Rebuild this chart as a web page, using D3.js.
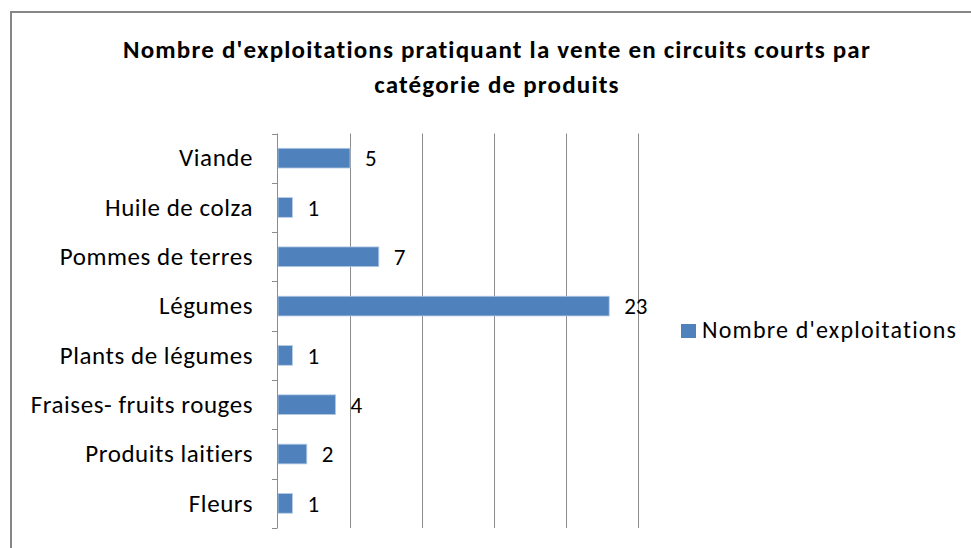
<!DOCTYPE html>
<html>
<head>
<meta charset="utf-8">
<script src="https://cdn.jsdelivr.net/npm/d3@7"></script>
<style>
  html, body { margin: 0; padding: 0; background: #ffffff; }
  svg { display: block; }
  text { font-family: Carlito, Lato, "Open Sans", sans-serif; fill: #000; }
</style>
</head>
<body>
<svg id="chart" width="971" height="548"></svg>
<script>
// Categories, top to bottom
const categories = [
  "Viande",
  "Huile de colza",
  "Pommes de terres",
  "Légumes",
  "Plants de légumes",
  "Fraises- fruits rouges",
  "Produits laitiers",
  "Fleurs"
];
// Number of farms per category
const values = [5, 1, 7, 23, 1, 4, 2, 1];
// Gridline values along the value axis
const xTicks = [5, 10, 15, 20, 25];
const seriesName = "Nombre d'exploitations";
const titleLines = [
  "Nombre d'exploitations pratiquant la vente en circuits courts par",
  "catégorie de produits"
];

const svg = d3.select("#chart");
const barColor = "#4f81bd";
const gridColor = "#8c8c8c";

// Outer chart frame
svg.append("rect")
  .attr("x", 11).attr("y", 12)
  .attr("width", 975).attr("height", 560)
  .attr("fill", "#fff")
  .attr("stroke", "#868686")
  .attr("stroke-width", 2);

// Title
svg.append("g").selectAll("text")
  .data(titleLines)
  .join("text")
  .attr("x", 497)
  .attr("y", (d, i) => 58 + i * 35)
  .attr("text-anchor", "middle")
  .attr("font-size", 25)
  .attr("font-weight", "bold")
  .attr("letter-spacing", 1.2)
  .text(d => d);

const plot = { left: 278, right: 638, top: 133.5, bottom: 528 };

const x = d3.scaleLinear().domain([0, 25]).range([plot.left, plot.right]);
const y = d3.scaleBand().domain(categories)
  .range([plot.top, plot.bottom])
  .paddingInner(0.6).paddingOuter(0.3);
const yEdges = d3.scaleLinear().domain([0, categories.length]).range([plot.top, plot.bottom]);

// Vertical gridlines
svg.append("g").selectAll("line")
  .data(xTicks)
  .join("line")
  .attr("x1", d => Math.round(x(d)) + 0.5)
  .attr("x2", d => Math.round(x(d)) + 0.5)
  .attr("y1", plot.top)
  .attr("y2", plot.bottom)
  .attr("stroke", gridColor)
  .attr("stroke-width", 1);

// Bars
svg.append("g").selectAll("rect")
  .data(values)
  .join("rect")
  .attr("x", x(0))
  .attr("y", (d, i) => y(categories[i]))
  .attr("width", d => x(d) - x(0))
  .attr("height", y.bandwidth())
  .attr("fill", barColor)
  .attr("stroke", "#b7cbe4")
  .attr("stroke-width", 0.8);

// Category axis with ticks between categories
const axisG = svg.append("g");
axisG.append("line")
  .attr("x1", Math.round(x(0)) - 0.5).attr("x2", Math.round(x(0)) - 0.5)
  .attr("y1", plot.top).attr("y2", plot.bottom)
  .attr("stroke", gridColor);
axisG.selectAll("line.tick")
  .data(d3.range(categories.length + 1))
  .join("line")
  .attr("class", "tick")
  .attr("x1", Math.round(x(0)) - 6)
  .attr("x2", Math.round(x(0)) - 0.5)
  .attr("y1", d => Math.round(yEdges(d)) + 0.5)
  .attr("y2", d => Math.round(yEdges(d)) + 0.5)
  .attr("stroke", gridColor);
axisG.selectAll("text")
  .data(categories)
  .join("text")
  .attr("x", x(0) - 25)
  .attr("y", d => y(d) + y.bandwidth() / 2)
  .attr("dy", "0.33em")
  .attr("text-anchor", "end")
  .attr("font-size", 25)
  .attr("letter-spacing", 0.55)
  .text(d => d);

// Value labels
svg.append("g").selectAll("text")
  .data(values)
  .join("text")
  .attr("x", d => x(d) + 15)
  .attr("y", (d, i) => y(categories[i]) + y.bandwidth() / 2)
  .attr("dy", "0.36em")
  .attr("font-size", 23)
  .text(d => d);

// Legend
const legend = svg.append("g");
legend.append("rect")
  .attr("x", 681).attr("y", 324)
  .attr("width", 15).attr("height", 14)
  .attr("fill", barColor);
legend.append("text")
  .attr("x", 702).attr("y", 338)
  .attr("font-size", 24)
  .attr("letter-spacing", 1.2)
  .text(seriesName);
</script>
</body>
</html>
